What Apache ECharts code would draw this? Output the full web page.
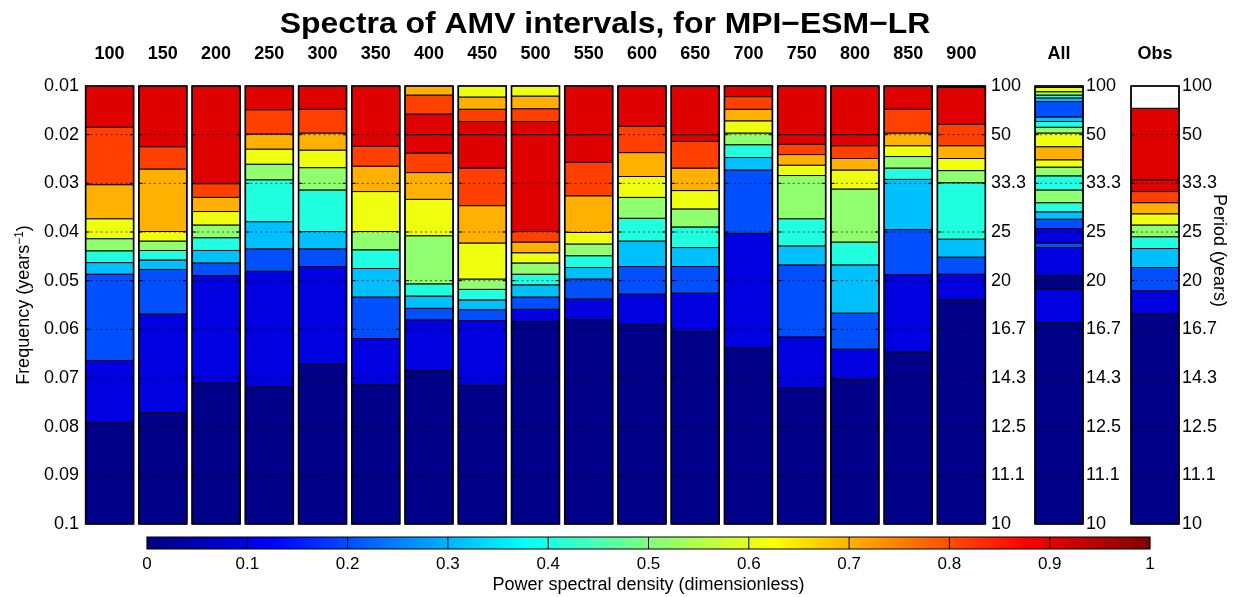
<!DOCTYPE html>
<html>
<head>
<meta charset="utf-8">
<script src="https://cdn.jsdelivr.net/npm/echarts/dist/echarts.min.js"></script>
<style>
  html, body { margin: 0; padding: 0; background: #fff; }
  #chart { width: 1239px; height: 597px; }
</style>
</head>
<body>
<div id="chart"></div>
<script>
// Interval lengths (years) of the model segments
const intervals = ['100', '150', '200', '250', '300', '350', '400', '450', '500',
                   '550', '600', '650', '700', '750', '800', '850', '900'];

// Period labels (years) matching frequency ticks 0.01 ... 0.1
const periodLabels = ['100', '50', '33.3', '25', '20', '16.7', '14.3', '12.5', '11.1', '10'];

// For every column: band edges in frequency (years^-1) and the PSD level (0..10) of each band
const edges100 = [0.01, 0.0185, 0.0303, 0.0373, 0.0414, 0.0439, 0.0463, 0.0487, 0.0664, 0.0792, 0.1];
const level100 = [9, 8, 7, 6, 5, 4, 3, 2, 1, 0];
const edges150 = [0.01, 0.0225, 0.0271, 0.0399, 0.0419, 0.0438, 0.0458, 0.0477, 0.0569, 0.0771, 0.1];
const level150 = [9, 8, 7, 6, 5, 4, 3, 2, 1, 0];
const edges200 = [0.01, 0.0301, 0.0329, 0.0358, 0.0386, 0.0412, 0.0438, 0.0464, 0.049, 0.0711, 0.1];
const level200 = [9, 8, 7, 6, 5, 4, 3, 2, 1, 0];
const edges250 = [0.01, 0.0149, 0.0199, 0.023, 0.0261, 0.0293, 0.0379, 0.0435, 0.0481, 0.0719, 0.1];
const level250 = [9, 8, 7, 6, 5, 4, 3, 2, 1, 0];
const edges300 = [0.01, 0.0148, 0.0197, 0.0232, 0.0268, 0.0314, 0.0399, 0.0435, 0.0471, 0.0672, 0.1];
const level300 = [9, 8, 7, 6, 5, 4, 3, 2, 1, 0];
const edges350 = [0.01, 0.0224, 0.0265, 0.0317, 0.0399, 0.0437, 0.0475, 0.0534, 0.0619, 0.0714, 0.1];
const level350 = [9, 8, 7, 6, 5, 4, 3, 2, 1, 0];
const edges400 = [0.01, 0.0119, 0.0158, 0.02, 0.0238, 0.0278, 0.0333, 0.0408, 0.0507, 0.0532, 0.0557, 0.0581, 0.0685, 0.1];
const level400 = [7, 8, 9, 9, 8, 7, 6, 5, 4, 3, 2, 1, 0];
const edges450 = [0.01, 0.0123, 0.0148, 0.0173, 0.02, 0.0269, 0.0346, 0.0423, 0.0497, 0.0518, 0.054, 0.056, 0.0582, 0.0716, 0.1];
const level450 = [6, 7, 8, 9, 9, 8, 7, 6, 5, 4, 3, 2, 1, 0];
const edges500 = [0.01, 0.0121, 0.0147, 0.0173, 0.02, 0.0399, 0.0421, 0.0443, 0.0464, 0.0487, 0.0509, 0.0534, 0.0559, 0.0584, 0.1];
const level500 = [6, 7, 8, 9, 9, 8, 7, 6, 5, 4, 3, 2, 1, 0];
const edges550 = [0.01, 0.02, 0.0257, 0.0326, 0.0401, 0.0425, 0.0449, 0.0473, 0.0497, 0.0538, 0.058, 0.1];
const level550 = [9, 9, 8, 7, 6, 5, 4, 3, 2, 1, 0];
const edges600 = [0.01, 0.0183, 0.0237, 0.0286, 0.0329, 0.0372, 0.0419, 0.0471, 0.0528, 0.059, 0.1];
const level600 = [9, 8, 7, 6, 5, 4, 3, 2, 1, 0];
const edges650 = [0.01, 0.02, 0.0214, 0.0269, 0.0315, 0.0353, 0.039, 0.0432, 0.0471, 0.0526, 0.0605, 0.1];
const level650 = [9, 9, 8, 7, 6, 5, 4, 3, 2, 1, 0];
const edges700 = [0.01, 0.0122, 0.0148, 0.0172, 0.0197, 0.0221, 0.0247, 0.0273, 0.0403, 0.0639, 0.1];
const level700 = [9, 8, 7, 6, 5, 4, 3, 2, 1, 0];
const edges750 = [0.01, 0.02, 0.022, 0.0241, 0.0263, 0.0284, 0.0373, 0.0429, 0.0468, 0.0616, 0.0721, 0.1];
const level750 = [9, 9, 8, 7, 6, 5, 4, 3, 2, 1, 0];
const edges800 = [0.01, 0.02, 0.0223, 0.0249, 0.0273, 0.0312, 0.0421, 0.0468, 0.0567, 0.0641, 0.0704, 0.1];
const level800 = [9, 9, 8, 7, 6, 5, 4, 3, 2, 1, 0];
const edges850 = [0.01, 0.0148, 0.0197, 0.0223, 0.0245, 0.0269, 0.0292, 0.0395, 0.0488, 0.0647, 0.1];
const level850 = [9, 8, 7, 6, 5, 4, 3, 2, 1, 0];
const edges900 = [0.01, 0.0103, 0.0179, 0.0223, 0.0249, 0.0274, 0.0299, 0.0415, 0.0452, 0.0487, 0.054, 0.1];
const level900 = [10, 9, 8, 7, 6, 5, 4, 3, 2, 1, 0];

const edgesAll = [0.01, 0.0103, 0.0112, 0.0119, 0.0125, 0.0132, 0.0164, 0.0173, 0.0185, 0.0197, 0.0225, 0.0252,
                  0.0267, 0.0285, 0.0314, 0.034, 0.0359, 0.0374, 0.0393, 0.0423, 0.0432, 0.049, 0.0517, 0.0586, 0.1];
const levelAll = [7, 6, 5, 4, 3, 2, 3, 4, 5, 6, 7, 6, 5, 4, 5, 4, 3, 2, 1, 2, 1, 0, 1, 0];

const edgesObs = [0.01, 0.0146, 0.0293, 0.0317, 0.034, 0.0363, 0.0386, 0.041, 0.0434, 0.0473, 0.0521, 0.0569, 0.1];
const levelObs = [null, 9, 9, 8, 7, 6, 5, 4, 3, 2, 1, 0];

// Fill colour per PSD level (jet colormap sampled at 0, 0.1, ..., 1)
const levelColors = ['#000088', '#0000E0', '#0050FF', '#00C0FF', '#20FFDF',
                     '#90FF70', '#EFFF10', '#FFB000', '#FF4000', '#DF0000', '#800000'];

const modelEdges = [edges100, edges150, edges200, edges250, edges300, edges350, edges400, edges450, edges500,
                    edges550, edges600, edges650, edges700, edges750, edges800, edges850, edges900];
const modelLevels = [level100, level150, level200, level250, level300, level350, level400, level450, level500,
                     level550, level600, level650, level700, level750, level800, level850, level900];

function bandData(edgeList, levelList) {
  const out = [];
  edgeList.forEach((edges, col) => {
    const levels = levelList[col];
    for (let j = 0; j < levels.length; j++) {
      out.push([col, edges[j], edges[j + 1], levels[j] == null ? -1 : levels[j]]);
    }
  });
  return out;
}

const FONT = '"Liberation Sans", Arial, Helvetica, sans-serif';
const gridFreqs = [0.02, 0.03, 0.04, 0.05, 0.06, 0.07, 0.08, 0.09];

function renderBands(widthRatio) {
  return function (params, api) {
    const c = api.value(0);
    const p0 = api.coord([c, api.value(1)]);
    const p1 = api.coord([c, api.value(2)]);
    const w = api.size([1, 0])[0] * widthRatio;
    const lvl = api.value(3);
    return {
      type: 'rect',
      shape: { x: p0[0] - w / 2, y: p0[1], width: w, height: p1[1] - p0[1] },
      style: { fill: lvl < 0 ? '#ffffff' : levelColors[lvl], stroke: '#000', lineWidth: 1 }
    };
  };
}

function renderFrame(widthRatio) {
  return function (params, api) {
    const c = api.value(0);
    const top = api.coord([c, 0.01]);
    const bot = api.coord([c, 0.1]);
    const w = api.size([1, 0])[0] * widthRatio;
    const x0 = top[0] - w / 2;
    const children = [];
    gridFreqs.forEach(f => {
      const y = api.coord([c, f])[1];
      children.push({ type: 'line', shape: { x1: x0, y1: y, x2: x0 + w, y2: y },
        style: { stroke: '#000', lineWidth: 1, lineDash: [2, 3], opacity: 0.6 } });
      children.push({ type: 'line', shape: { x1: x0, y1: y, x2: x0 + 4, y2: y },
        style: { stroke: '#000', lineWidth: 1 } });
      children.push({ type: 'line', shape: { x1: x0 + w - 4, y1: y, x2: x0 + w, y2: y },
        style: { stroke: '#000', lineWidth: 1 } });
    });
    children.push({ type: 'rect', shape: { x: x0, y: top[1], width: w, height: bot[1] - top[1] },
      style: { fill: 'none', stroke: '#000', lineWidth: 1.6 } });
    return { type: 'group', children: children };
  };
}

// Colour bar drawn on its own value axis
const jetStops = [
  { offset: 0, color: '#000080' }, { offset: 0.125, color: '#0000FF' },
  { offset: 0.375, color: '#00FFFF' }, { offset: 0.625, color: '#FFFF00' },
  { offset: 0.875, color: '#FF0000' }, { offset: 1, color: '#800000' }
];
const colorbarTicks = [0.1, 0.2, 0.3, 0.4, 0.5, 0.6, 0.7, 0.8, 0.9];
function renderColorbar(params, api) {
  const a = api.coord([0, 1]);
  const b = api.coord([1, 0]);
  const children = [{
    type: 'rect', shape: { x: a[0], y: a[1], width: b[0] - a[0], height: b[1] - a[1] },
    style: { fill: new echarts.graphic.LinearGradient(0, 0, 1, 0, jetStops) }
  }];
  colorbarTicks.forEach(t => {
    const x = api.coord([t, 0])[0];
    children.push({ type: 'line', shape: { x1: x, y1: a[1], x2: x, y2: b[1] },
      style: { stroke: '#000', lineWidth: 1 } });
  });
  children.push({ type: 'rect', shape: { x: a[0], y: a[1], width: b[0] - a[0], height: b[1] - a[1] },
    style: { fill: 'none', stroke: '#000', lineWidth: 1.2 } });
  return { type: 'group', children: children };
}

const gridTop = 86, gridHeight = 438;
const topLabel = { show: true, fontFamily: FONT, fontWeight: 'bold', fontSize: 18, color: '#000', margin: 23 };
const periodAxisLabel = {
  show: true, fontFamily: FONT, fontSize: 18, color: '#000', margin: 3,
  formatter: v => periodLabels[Math.round(v * 100) - 1] || ''
};
function freqAxis(gridIndex, position, label, extra) {
  return Object.assign({
    type: 'value', gridIndex: gridIndex, position: position, inverse: true,
    min: 0.01, max: 0.1, interval: 0.01,
    axisLine: { show: false }, axisTick: { show: false }, splitLine: { show: false },
    axisLabel: label
  }, extra || {});
}
function catAxis(gridIndex, data) {
  return {
    type: 'category', gridIndex: gridIndex, position: 'top', data: data, boundaryGap: true,
    axisLine: { show: false }, axisTick: { show: false }, splitLine: { show: false },
    axisLabel: topLabel
  };
}

const chart = echarts.init(document.getElementById('chart'), null, { renderer: 'canvas' });
chart.setOption({
  backgroundColor: '#ffffff',
  animation: false,
  graphic: [
    { type: 'text', x: 605, y: 25, scaleX: 1.1,
      style: { text: 'Spectra of AMV intervals, for MPI−ESM−LR', font: 'bold 29px ' + FONT, fill: '#000',
               textAlign: 'center', textVerticalAlign: 'middle' } },
    { type: 'text', x: 1228, y: 194, rotation: -Math.PI / 2,
      style: { text: 'Period (years)', font: '18px ' + FONT, fill: '#000' } }
  ],
  grid: [
    { left: 83, top: gridTop, width: 905, height: gridHeight },
    { left: 1035, top: gridTop, width: 48, height: gridHeight },
    { left: 1131, top: gridTop, width: 48, height: gridHeight },
    { left: 147, top: 537, width: 1003, height: 12 }
  ],
  xAxis: [
    catAxis(0, intervals),
    catAxis(1, ['All']),
    catAxis(2, ['Obs']),
    {
      type: 'value', gridIndex: 3, min: 0, max: 1, interval: 0.1,
      axisLine: { show: false }, axisTick: { show: false }, splitLine: { show: false },
      axisLabel: { fontFamily: FONT, fontSize: 17, color: '#000', margin: 7,
                   formatter: v => String(+v.toFixed(1)) },
      name: 'Power spectral density (dimensionless)', nameLocation: 'middle', nameGap: 27,
      nameTextStyle: { fontFamily: FONT, fontSize: 18, color: '#000' }
    }
  ],
  yAxis: [
    freqAxis(0, 'left', { show: true, fontFamily: FONT, fontSize: 18, color: '#000', margin: 4,
                          formatter: v => String(+v.toFixed(2)) }, {
      name: 'Frequency (years{sup|−1})', nameLocation: 'middle', nameGap: 40, nameRotate: 90,
      nameTextStyle: { fontFamily: FONT, fontSize: 18, color: '#000',
        rich: { sup: { fontFamily: FONT, fontSize: 12, color: '#000', verticalAlign: 'bottom', padding: [0, 0, 9, 0] } } }
    }),
    freqAxis(0, 'right', periodAxisLabel),
    freqAxis(1, 'right', periodAxisLabel),
    freqAxis(2, 'right', periodAxisLabel),
    { type: 'value', gridIndex: 3, min: 0, max: 1, show: false }
  ],
  series: [
    { type: 'custom', xAxisIndex: 0, yAxisIndex: 0, z: 2, renderItem: renderBands(48 / 53.24),
      encode: { x: 0, y: [1, 2] }, data: bandData(modelEdges, modelLevels) },
    { type: 'custom', xAxisIndex: 0, yAxisIndex: 0, z: 3, renderItem: renderFrame(48 / 53.24),
      encode: { x: 0 }, data: intervals.map((_, i) => [i]) },
    { type: 'custom', xAxisIndex: 1, yAxisIndex: 2, z: 2, renderItem: renderBands(1),
      encode: { x: 0, y: [1, 2] }, data: bandData([edgesAll], [levelAll]) },
    { type: 'custom', xAxisIndex: 1, yAxisIndex: 2, z: 3, renderItem: renderFrame(1),
      encode: { x: 0 }, data: [[0]] },
    { type: 'custom', xAxisIndex: 2, yAxisIndex: 3, z: 2, renderItem: renderBands(1),
      encode: { x: 0, y: [1, 2] }, data: bandData([edgesObs], [levelObs]) },
    { type: 'custom', xAxisIndex: 2, yAxisIndex: 3, z: 3, renderItem: renderFrame(1),
      encode: { x: 0 }, data: [[0]] },
    { type: 'custom', xAxisIndex: 3, yAxisIndex: 4, z: 2, renderItem: renderColorbar,
      data: [[0, 0]] }
  ]
});
</script>
</body>
</html>
